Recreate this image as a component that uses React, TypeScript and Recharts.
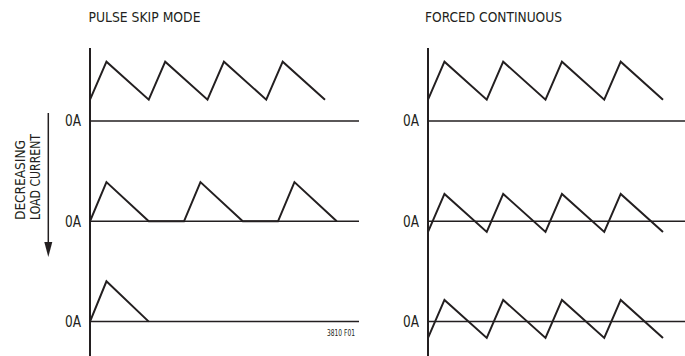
import React from 'react';
import { LineChart, Line, XAxis, YAxis, ReferenceLine } from 'recharts';

// ---- data (time in tenths of a switching period, current in arbitrary units) ----
const CCM_TIME = [0, 2.8, 10, 12.8, 20, 22.8, 30, 32.8, 40];
const SKIP_HEAVY = [5.6, 15.6, 5.6, 15.6, 5.6, 15.6, 5.6, 15.6, 5.6];
const SKIP_MEDIUM_TIME = [0, 2.8, 10, 16, 18.8, 26, 32, 34.8, 42];
const SKIP_MEDIUM = [0, 10.3, 0, 0, 10.3, 0, 0, 10.3, 0];
const SKIP_LIGHT_TIME = [0, 2.8, 10];
const SKIP_LIGHT = [0, 10.6, 0];
const FORCED_HEAVY = [5.6, 15.6, 5.6, 15.6, 5.6, 15.6, 5.6, 15.6, 5.6];
const FORCED_MEDIUM = [-2.8, 7.2, -2.8, 7.2, -2.8, 7.2, -2.8, 7.2, -2.8];
const FORCED_LIGHT = [-4.3, 5.7, -4.3, 5.7, -4.3, 5.7, -4.3, 5.7, -4.3];

const ZERO_LABEL = '0A';
const TITLES = ['PULSE SKIP MODE', 'FORCED CONTINUOUS'];
const LOAD_LABEL = ['DECREASING', 'LOAD CURRENT'];
const FIGURE_ID = '3810 F01';

// ---- layout / style ----
const INK = '#231f20';
const FONT = "'Liberation Sans Narrow', 'Arial Narrow', 'DejaVu Sans Condensed', sans-serif";
const ROW_GAP = 26.4;
const Y_MAX = 19.2;
const Y_MIN = 19.2 - 308 / 3.8;
const ROW_ZEROS = [0, -ROW_GAP, -2 * ROW_GAP];

type Row = { t: number[]; v: number[] };

const ZeroTick = (props: any) => {
  const { x, y } = props;
  return (
    <text x={x} y={y} dy="0.36em" textAnchor="end" fontFamily={FONT} fontSize={15} fill={INK} textLength={16} lengthAdjust="spacingAndGlyphs">
      {ZERO_LABEL}
    </text>
  );
};

function Panel({ rows, left, width, axisWidth, rightMargin, xMax }: { rows: Row[]; left: number; width: number; axisWidth: number; rightMargin: number; xMax: number }) {
  const series = rows.map((r, k) => r.t.map((t, j) => ({ t, i: r.v[j] - k * ROW_GAP })));
  return (
    <div style={{ position: 'absolute', left, top: 0 }}>
      <LineChart width={width} height={356} margin={{ top: 48, right: rightMargin, bottom: 0, left: 0 }}>
        <XAxis type="number" dataKey="t" domain={[0, xMax]} allowDataOverflow hide />
        <YAxis
          type="number"
          domain={[Y_MIN, Y_MAX]}
          allowDataOverflow
          ticks={ROW_ZEROS}
          width={axisWidth}
          axisLine={{ stroke: INK, strokeWidth: 2 }}
          tickLine={false}
          tickSize={0}
          tickMargin={9}
          tick={(p: any) => <ZeroTick {...p} />}
          interval={0}
        />
        {ROW_ZEROS.map((y) => (
          <ReferenceLine key={y} y={y} stroke={INK} strokeWidth={1.5} ifOverflow="extendDomain" />
        ))}
        {series.map((d, k) => (
          <Line
            key={k}
            data={d}
            dataKey="i"
            type="linear"
            dot={false}
            activeDot={false}
            stroke={INK}
            strokeWidth={2}
            isAnimationActive={false}
          />
        ))}
      </LineChart>
    </div>
  );
}

export default function App() {
  const skipRows: Row[] = [
    { t: CCM_TIME, v: SKIP_HEAVY },
    { t: SKIP_MEDIUM_TIME, v: SKIP_MEDIUM },
    { t: SKIP_LIGHT_TIME, v: SKIP_LIGHT },
  ];
  const forcedRows: Row[] = [
    { t: CCM_TIME, v: FORCED_HEAVY },
    { t: CCM_TIME, v: FORCED_MEDIUM },
    { t: CCM_TIME, v: FORCED_LIGHT },
  ];
  return (
    <div style={{ position: 'absolute', left: 0, top: 0, width: 685, height: 356, background: '#fff', overflow: 'hidden' }}>
      <Panel rows={skipRows} left={0} width={360} axisWidth={90} rightMargin={1} xMax={269 / 5.875} />
      <Panel rows={forcedRows} left={340} width={345} axisWidth={88} rightMargin={0} xMax={257 / 5.875} />
      <svg width={685} height={356} style={{ position: 'absolute', left: 0, top: 0, pointerEvents: 'none' }}>
        <text x={88.5} y={22.3} fontFamily={FONT} fontSize={14.5} fill={INK} textLength={112} lengthAdjust="spacingAndGlyphs">{TITLES[0]}</text>
        <text x={425} y={22.3} fontFamily={FONT} fontSize={14.5} fill={INK} textLength={137} lengthAdjust="spacingAndGlyphs">{TITLES[1]}</text>
        <text transform="translate(25,220) rotate(-90)" fontFamily={FONT} fontSize={14.5} fill={INK} textLength={80} lengthAdjust="spacingAndGlyphs">{LOAD_LABEL[0]}</text>
        <text transform="translate(40,220) rotate(-90)" fontFamily={FONT} fontSize={14.5} fill={INK} textLength={86} lengthAdjust="spacingAndGlyphs">{LOAD_LABEL[1]}</text>
        <line x1={48.3} y1={113} x2={48.3} y2={247} stroke={INK} strokeWidth={1.5} />
        <polygon points="44.3,242 52.3,242 48.3,257" fill={INK} />
        <text x={355} y={336} textAnchor="end" fontFamily={FONT} fontSize={8.5} fill={INK} textLength={28} lengthAdjust="spacingAndGlyphs">{FIGURE_ID}</text>
      </svg>
    </div>
  );
}
